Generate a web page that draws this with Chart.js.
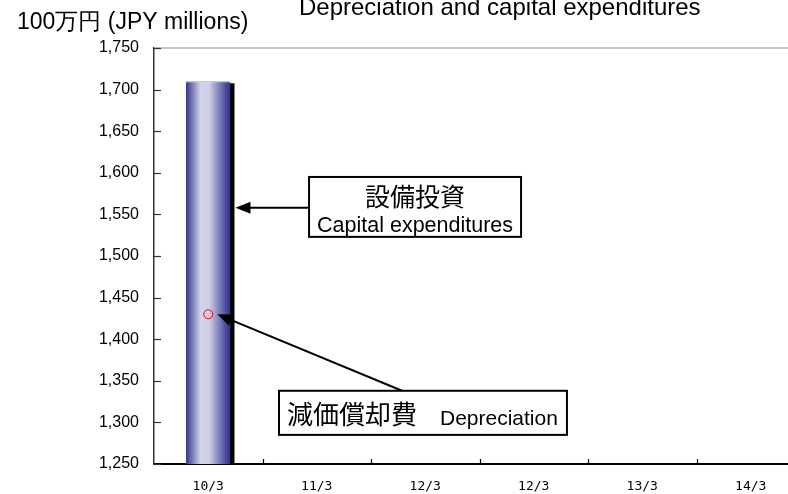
<!DOCTYPE html>
<html lang="ja">
<head>
  <meta charset="UTF-8" />
  <title>Depreciation and capital expenditures</title>
  <script src="https://cdn.jsdelivr.net/npm/chart.js"></script>
  <style>
    html, body {
      margin: 0;
      padding: 0;
      background: #fff;
      overflow: hidden;
    }
    #wrap {
      width: 820px;
      height: 494px;
    }
  </style>
</head>
<body>
  <div id="wrap">
    <canvas id="capexChart" width="820" height="494"></canvas>
  </div>

  <script>
    // fiscal years (the source repeats 12/3)
    const periods = ["10/3", "11/3", "12/3", "12/3", "13/3", "14/3"];
    const capex = [1710, null, null, null, null, null];
    const depreciation = [1430, null, null, null, null, null];
    const yMin = 1250;
    const yMax = 1750;
    const yStep = 50;

    const titleText = "Depreciation and capital expenditures";
    const unitText = "100万円 (JPY millions)";

    const sansFont = "'Liberation Sans', Arial, sans-serif";
    const jpFont = "'Noto Sans CJK JP', sans-serif";

    // bar gradient, dark edges and a light band just left of centre
    function barFill(context) {
      const chart = context.chart;
      if (!chart.chartArea || !chart.scales.x) return "#4a4c9a";
      const xs = chart.scales.x;
      const cx = xs.getPixelForValue(context.dataIndex);
      const w = (xs.width / periods.length) * 0.41;
      const g = chart.ctx.createLinearGradient(cx - w / 2, 0, cx + w / 2, 0);
      g.addColorStop(0, "#34378a");
      g.addColorStop(0.33, "#d4d4ea");
      g.addColorStop(0.52, "#cfcfe5");
      g.addColorStop(0.92, "#414398");
      g.addColorStop(1, "#34378a");
      return g;
    }

    // black drop shadow behind the bar (clipped to the plot)
    const barShadow = {
      id: "barShadow",
      beforeDatasetsDraw(chart) {
        const meta = chart.getDatasetMeta(1);
        const ctx = chart.ctx;
        const bottom = chart.chartArea.bottom;
        ctx.save();
        ctx.fillStyle = "#000";
        meta.data.forEach((bar, i) => {
          if (capex[i] == null) return;
          const p = bar.getProps(["x", "y", "base", "width"], true);
          const end = Math.min(p.base, bottom);
          ctx.fillRect(p.x - p.width / 2 + 4, p.y + 2, p.width, end - p.y - 2);
        });
        ctx.restore();
      }
    };

    // top frame line, inward tick marks, titles
    const frame = {
      id: "frame",
      afterDraw(chart) {
        const ctx = chart.ctx;
        const a = chart.chartArea;
        const xs = chart.scales.x;
        const ys = chart.scales.y;
        ctx.save();

        ctx.strokeStyle = "#b4b4b4";
        ctx.lineWidth = 1.5;
        ctx.beginPath();
        ctx.moveTo(a.left, a.top);
        ctx.lineTo(chart.width, a.top);
        ctx.stroke();

        ctx.strokeStyle = "#333";
        ctx.lineWidth = 1.2;
        ys.ticks.forEach(t => {
          const y = Math.round(ys.getPixelForValue(t.value)) + 0.5;
          ctx.beginPath();
          ctx.moveTo(a.left, y);
          ctx.lineTo(a.left + 7, y);
          ctx.stroke();
        });

        ctx.strokeStyle = "#000";
        const half = xs.width / periods.length / 2;
        for (let i = 1; i < periods.length; i++) {
          const x = Math.round(xs.getPixelForValue(i) - half) + 0.5;
          ctx.beginPath();
          ctx.moveTo(x, a.bottom);
          ctx.lineTo(x, a.bottom - 5);
          ctx.stroke();
        }

        ctx.fillStyle = "#000";
        ctx.textAlign = "left";
        ctx.textBaseline = "alphabetic";
        ctx.font = "24px " + sansFont;
        ctx.fillText(titleText, 299, 15);
        ctx.font = "23px " + sansFont;
        ctx.fillText(unitText, 17, 29);
        ctx.restore();
      }
    };

    // call-out boxes with arrows, anchored to the scales
    const callouts = {
      id: "callouts",
      afterDatasetsDraw(chart) {
        const ctx = chart.ctx;
        const xs = chart.scales.x;
        const ys = chart.scales.y;
        const px = v => xs.getPixelForValue(v);
        const py = v => ys.getPixelForValue(v);

        function arrow(x1, y1, x2, y2) {
          const ang = Math.atan2(y2 - y1, x2 - x1);
          const len = 15, wid = 6;
          ctx.beginPath();
          ctx.moveTo(x1, y1);
          ctx.lineTo(x2 - Math.cos(ang) * len * 0.8, y2 - Math.sin(ang) * len * 0.8);
          ctx.stroke();
          ctx.beginPath();
          ctx.moveTo(x2, y2);
          ctx.lineTo(x2 - Math.cos(ang) * len - Math.sin(ang) * wid, y2 - Math.sin(ang) * len + Math.cos(ang) * wid);
          ctx.lineTo(x2 - Math.cos(ang) * len + Math.sin(ang) * wid, y2 - Math.sin(ang) * len - Math.cos(ang) * wid);
          ctx.closePath();
          ctx.fill();
        }

        ctx.save();
        ctx.strokeStyle = "#000";
        ctx.fillStyle = "#000";
        ctx.lineWidth = 2;

        // capital expenditures
        const bar = chart.getDatasetMeta(1).data[0].getProps(["x", "width"], true);
        const b1 = { l: px(0.929), r: px(2.883), t: py(1595), b: py(1523) };
        const ay = py(1558);
        arrow(b1.l, ay, bar.x + bar.width / 2 + 5, ay);
        ctx.fillStyle = "#fff";
        ctx.fillRect(b1.l, b1.t, b1.r - b1.l, b1.b - b1.t);
        ctx.strokeRect(b1.l, b1.t, b1.r - b1.l, b1.b - b1.t);
        ctx.fillStyle = "#000";
        ctx.textAlign = "center";
        ctx.font = "25px " + jpFont;
        ctx.fillText("設備投資", (b1.l + b1.r) / 2, b1.t + 29);
        ctx.font = "21.5px " + sansFont;
        ctx.fillText("Capital expenditures", (b1.l + b1.r) / 2, b1.b - 5);

        // depreciation
        const pt = chart.getDatasetMeta(0).data[0].getProps(["x", "y"], true);
        const b2 = { l: px(0.652), r: px(3.306), t: py(1338), b: py(1285) };
        arrow(px(1.786), b2.t, pt.x + 9, pt.y);
        ctx.fillStyle = "#fff";
        ctx.fillRect(b2.l, b2.t, b2.r - b2.l, b2.b - b2.t);
        ctx.strokeRect(b2.l, b2.t, b2.r - b2.l, b2.b - b2.t);
        ctx.fillStyle = "#000";
        ctx.textAlign = "left";
        ctx.font = "26px " + jpFont;
        ctx.fillText("減価償却費", b2.l + 8, b2.b - 11);
        ctx.font = "21px " + sansFont;
        ctx.fillText("Depreciation", b2.l + 161, b2.b - 10);
        ctx.restore();
      }
    };

    const ctx = document.getElementById("capexChart").getContext("2d");
    new Chart(ctx, {
      data: {
        labels: periods,
        datasets: [
          {
            type: "line",
            label: "減価償却費 Depreciation",
            data: depreciation,
            showLine: false,
            pointStyle: "circle",
            pointRadius: 4.5,
            pointBorderWidth: 1,
            pointBorderColor: "#ff0000",
            pointBackgroundColor: "rgba(0,0,0,0)",
            order: 0
          },
          {
            type: "bar",
            label: "設備投資 Capital expenditures",
            data: capex,
            backgroundColor: barFill,
            borderColor: "#9a9a9a",
            borderWidth: { top: 1, left: 0, right: 0, bottom: 0 },
            borderSkipped: false,
            barPercentage: 0.82,
            categoryPercentage: 0.5,
            order: 1
          }
        ]
      },
      options: {
        responsive: false,
        animation: false,
        layout: {
          padding: { left: 0, top: 48, right: 15, bottom: 0 }
        },
        plugins: {
          legend: { display: false },
          title: { display: false },
          tooltip: { enabled: false }
        },
        scales: {
          x: {
            afterFit: scale => { scale.height = 30; },
            grid: { display: false, drawTicks: false },
            border: { display: true, color: "#000", width: 2 },
            ticks: {
              color: "#000",
              padding: 15,
              font: { family: "'DejaVu Sans Mono', monospace", size: 13 },
              maxRotation: 0,
              autoSkip: false
            }
          },
          y: {
            min: yMin,
            max: yMax,
            afterFit: scale => { scale.width = 154; },
            grid: { display: false, drawTicks: false },
            border: { display: true, color: "#333", width: 1.5 },
            ticks: {
              stepSize: yStep,
              color: "#000",
              padding: 15,
              font: { family: sansFont, size: 16 },
              callback: v => v.toLocaleString("en-US")
            }
          }
        }
      },
      plugins: [barShadow, callouts, frame]
    });
  </script>
</body>
</html>
